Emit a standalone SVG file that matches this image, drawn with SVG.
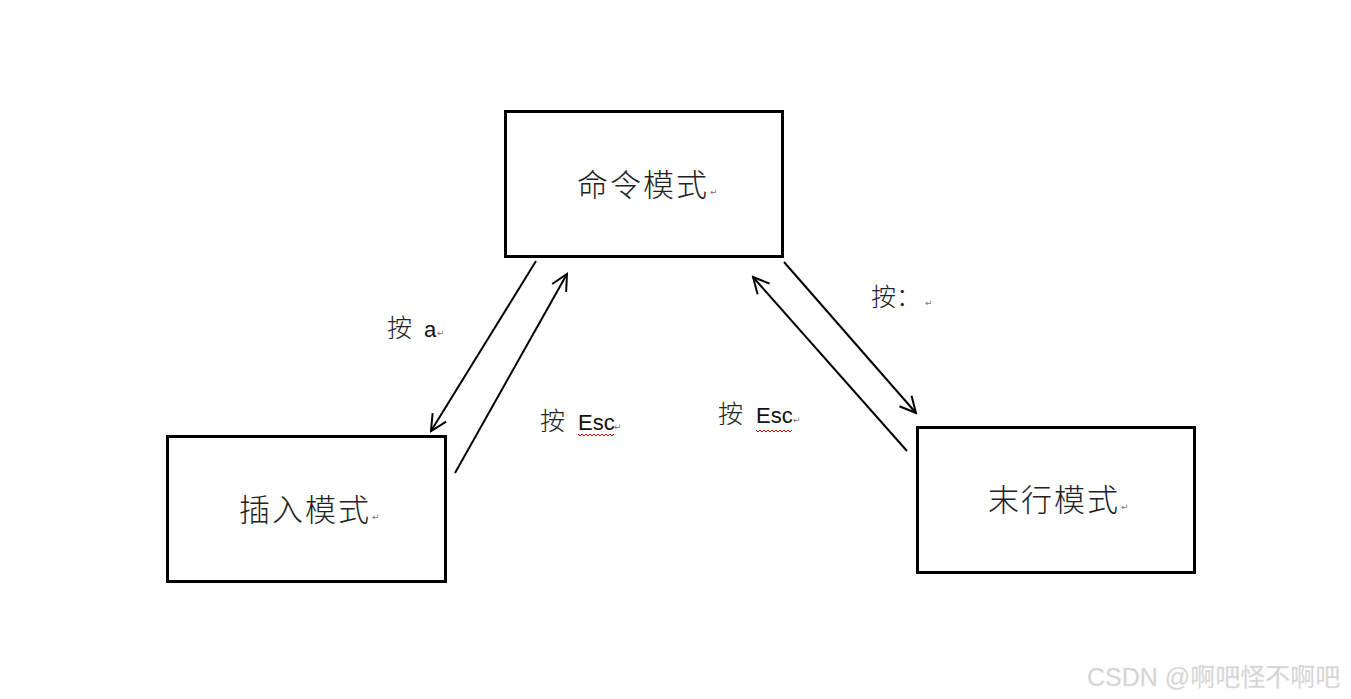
<svg xmlns="http://www.w3.org/2000/svg" width="1351" height="699" viewBox="0 0 1351 699">
<style>
.box{fill:#fff;stroke:#000;stroke-width:3}
.cn{font-family:"Noto Sans CJK SC","Noto Sans CJK JP",sans-serif;font-weight:300;fill:#222}
.big{font-size:31px;letter-spacing:2px}
.lat{font-family:"Liberation Sans",Lato,sans-serif;fill:#111}
.pm{font-family:"DejaVu Sans",sans-serif;font-size:9px;fill:#777}
.ln{stroke:#000;stroke-width:2;fill:none;marker-end:url(#ah)}
.wave{stroke:#e00;stroke-width:1;fill:none}
</style>
<defs>
<marker id="ah" viewBox="0 0 20 20" refX="18" refY="10" markerWidth="20" markerHeight="20" markerUnits="userSpaceOnUse" orient="auto">
<path d="M2,2 L18,10 L2,18" fill="none" stroke="#000" stroke-width="2"/>
</marker>
</defs>
<rect width="1351" height="699" fill="#fff"/>
<g id="cmd">
<rect class="box" x="505.5" y="111.5" width="277" height="145"/>
<text class="cn big" x="577" y="196">命令模式</text>
<text class="pm" x="710" y="195">↵</text>
</g>
<g id="insert">
<rect class="box" x="167.5" y="436.5" width="278" height="145"/>
<text class="cn big" x="239" y="521">插入模式</text>
<text class="pm" x="372" y="520">↵</text>
</g>
<g id="lastline">
<rect class="box" x="917.5" y="427.5" width="277" height="145"/>
<text class="cn big" x="988" y="511">末行模式</text>
<text class="pm" x="1121" y="510">↵</text>
</g>
<g id="connectors">
<line class="ln" x1="536" y1="261" x2="431" y2="431"/>
<line class="ln" x1="455" y1="473" x2="567" y2="274"/>
<line class="ln" x1="784" y1="262" x2="916" y2="413"/>
<line class="ln" x1="907" y1="451" x2="753" y2="277"/>
</g>
<g id="labels">
<text class="cn" x="387" y="337" font-size="25">按</text>
<text class="lat" x="424" y="337" font-size="22">a</text>
<text class="pm" x="437" y="336">↵</text>
<text class="cn" x="540" y="430" font-size="25">按</text>
<text class="lat" x="578" y="430" font-size="22">Esc</text>
<text class="pm" x="614" y="430">↵</text>
<path class="wave" d="M578,434 l2,2 l2,-2 l2,2 l2,-2 l2,2 l2,-2 l2,2 l2,-2 l2,2 l2,-2 l2,2 l2,-2 l2,2 l2,-2 l2,2 l2,-2 l2,2 l2,-2"/>
<text class="cn" x="718" y="423" font-size="25">按</text>
<text class="lat" x="756" y="423" font-size="22">Esc</text>
<text class="pm" x="793" y="423">↵</text>
<path class="wave" d="M756,430 l2,2 l2,-2 l2,2 l2,-2 l2,2 l2,-2 l2,2 l2,-2 l2,2 l2,-2 l2,2 l2,-2 l2,2 l2,-2 l2,2 l2,-2 l2,2 l2,-2"/>
<text class="cn" x="871" y="306" font-size="25">按：</text>
<text class="pm" x="925" y="306">↵</text>
</g>
<text x="1087" y="686" font-family="'Liberation Sans','Noto Sans CJK SC',sans-serif" font-size="25" fill="#d2d2d2" stroke="#e8e8e8" stroke-width="0.3">CSDN @啊吧怪不啊吧</text>
</svg>
